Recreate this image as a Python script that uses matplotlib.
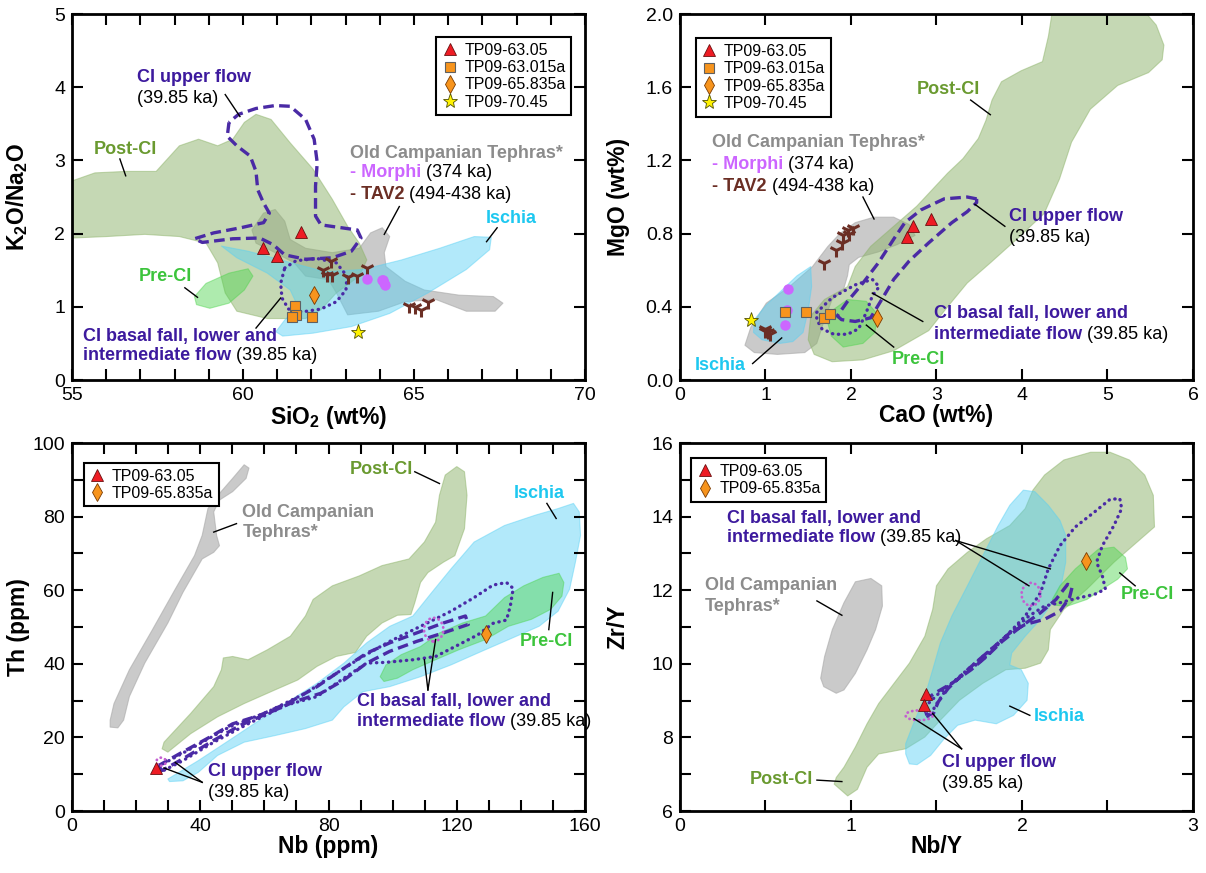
import numpy as np
import matplotlib.pyplot as plt
from matplotlib.patches import Polygon, Ellipse
from matplotlib.ticker import MultipleLocator
from matplotlib.lines import Line2D

plt.rcParams['font.family'] = 'Liberation Sans'
plt.rcParams['mathtext.fontset'] = 'custom'
plt.rcParams['mathtext.rm'] = 'Liberation Sans'
plt.rcParams['mathtext.bf'] = 'Liberation Sans:bold'

# ---------------- colours ----------------
POST_FILL, POST_TXT = '#8db36a', '#6a9a30'
PRE_FILL, PRE_TXT = '#4cd44c', '#3cc43c'
ISCH_FILL, ISCH_TXT = '#55d0f5', '#1ec8f0'
OCT_FILL, OCT_TXT = '#a8a8a8', '#8c8c8c'
CI = '#3d1a9e'
CI_LINE = '#4a2aa5'
MORPHI = '#cc66ff'
TAV2 = '#6b2e24'

# ---------------- SiO2 vs K2O/Na2O ----------------
p1_post_ci = [(55, 2.72), (55.67, 2.83), (56.57, 2.85), (57.46, 2.85), (58.14, 3.20), (58.70, 3.29),
              (59.26, 3.20), (59.70, 3.29), (60.04, 3.52), (60.38, 3.63), (60.82, 3.56), (61.38, 3.24),
              (62.05, 2.88), (62.61, 2.47), (63.06, 2.10), (63.40, 1.87), (63.62, 1.64), (63.40, 1.42),
              (62.73, 1.19), (62.28, 0.96), (61.83, 0.84), (60.71, 0.84), (59.82, 0.94), (59.48, 1.19),
              (59.26, 1.60), (58.92, 1.87), (58.14, 1.96), (57.13, 1.99), (56.01, 1.96), (55.0, 1.94)]
p1_oct = [(60.26, 2.05), (60.60, 2.28), (60.94, 2.33), (61.22, 2.17), (61.38, 1.92), (61.83, 1.80),
          (62.61, 1.74), (63.40, 1.80), (63.73, 2.01), (64.07, 2.08), (64.29, 1.96), (64.13, 1.74),
          (64.18, 1.55), (64.74, 1.35), (65.30, 1.23), (66.31, 1.16), (67.32, 1.14), (67.60, 1.05),
          (67.37, 0.94), (66.53, 0.94), (65.64, 1.10), (64.74, 1.07), (63.96, 0.94), (63.06, 0.89),
          (62.73, 1.19), (62.50, 1.37), (61.83, 1.42), (61.50, 1.60), (60.94, 1.74), (60.38, 1.87)]
p1_ischia = [(59.37, 1.83), (60.15, 1.76), (61.27, 1.62), (62.39, 1.48), (63.51, 1.51), (64.63, 1.64),
             (65.75, 1.80), (66.76, 1.96), (67.26, 1.95), (67.21, 1.78), (66.53, 1.51), (65.41, 1.19),
             (64.29, 0.91), (63.17, 0.73), (62.05, 0.64), (61.16, 0.60), (60.96, 0.66), (61.22, 0.82),
             (61.61, 1.00), (61.38, 1.23), (60.71, 1.46), (59.82, 1.67)]
p1_pre_ci = [(58.58, 1.14), (58.92, 1.32), (59.59, 1.46), (60.15, 1.52), (60.29, 1.42), (60.04, 1.23),
             (59.59, 1.05), (59.03, 0.98), (58.64, 1.03)]
p1_upper = [(59.59, 3.52), (59.54, 3.33), (59.82, 3.20), (60.21, 3.06), (60.38, 2.85), (60.43, 2.60),
            (60.60, 2.42), (60.77, 2.28), (60.60, 2.15), (59.93, 2.08), (59.14, 2.01), (58.58, 1.93),
            (58.81, 1.88), (59.70, 1.93), (60.49, 1.94), (60.88, 1.85), (61.22, 1.71), (61.83, 1.65),
            (62.61, 1.67), (63.17, 1.76), (63.45, 1.94), (63.34, 2.05), (62.73, 2.09), (62.28, 2.12),
            (62.12, 2.24), (62.12, 2.65), (62.17, 2.97), (62.08, 3.29), (61.83, 3.56), (61.38, 3.74),
            (60.94, 3.75), (60.38, 3.71), (59.87, 3.63)]
p1_basal = [(61.22, 1.53), (61.55, 1.63), (62.17, 1.66), (62.73, 1.60), (63.04, 1.42), (63.01, 1.23),
            (62.73, 1.07), (62.28, 0.97), (61.72, 0.93), (61.33, 0.97), (61.14, 1.12), (61.10, 1.32)]
p1_tri_x, p1_tri_y = [60.58, 60.99, 61.70], [1.80, 1.70, 2.02]
p1_sq_x, p1_sq_y = [61.52, 61.55, 61.44, 62.03], [1.01, 0.89, 0.86, 0.86]
p1_dia_x, p1_dia_y = [62.08], [1.16]
p1_star_x, p1_star_y = [63.37], [0.66]
p1_morphi_x, p1_morphi_y = [63.62, 64.05, 64.10, 64.12, 64.16], [1.38, 1.36, 1.37, 1.32, 1.30]
p1_tav2_x = [62.33, 62.45, 62.61, 62.56, 63.08, 63.34, 63.62, 64.85, 65.02, 65.19, 65.41]
p1_tav2_y = [1.50, 1.44, 1.44, 1.62, 1.41, 1.42, 1.53, 1.01, 1.00, 0.95, 1.07]

# ---------------- CaO vs MgO ----------------
p2_post_ci = [(4.35, 2.00), (5.46, 2.00), (5.57, 1.94), (5.66, 1.83), (5.64, 1.75), (5.48, 1.68),
              (5.12, 1.61), (4.80, 1.48), (4.58, 1.30), (4.44, 1.10), (4.26, 0.91), (3.94, 0.77),
              (3.63, 0.64), (3.36, 0.53), (3.13, 0.40), (2.91, 0.27), (2.50, 0.16), (2.14, 0.11),
              (1.78, 0.10), (1.57, 0.14), (1.50, 0.22), (1.53, 0.35), (1.69, 0.44), (1.96, 0.51),
              (2.05, 0.62), (2.23, 0.73), (2.50, 0.84), (2.77, 0.95), (2.95, 1.04), (3.13, 1.13),
              (3.31, 1.21), (3.49, 1.32), (3.58, 1.42), (3.65, 1.53), (3.76, 1.63), (3.99, 1.69),
              (4.24, 1.74), (4.31, 1.88)]
p2_oct = [(0.76, 0.19), (0.83, 0.29), (1.01, 0.42), (1.28, 0.51), (1.55, 0.62), (1.73, 0.73),
          (1.87, 0.80), (2.05, 0.86), (2.27, 0.89), (2.50, 0.89), (2.68, 0.85), (2.75, 0.79),
          (2.54, 0.74), (2.32, 0.70), (2.09, 0.67), (1.98, 0.63), (1.96, 0.57), (1.91, 0.49),
          (1.78, 0.44), (1.69, 0.33), (1.60, 0.20), (1.46, 0.15), (1.14, 0.14), (0.87, 0.15)]
p2_ischia = [(1.53, 0.62), (1.54, 0.51), (1.50, 0.38), (1.44, 0.26), (1.32, 0.21), (1.17, 0.20),
             (0.96, 0.22), (0.86, 0.26), (0.87, 0.33), (1.01, 0.41), (1.19, 0.49), (1.37, 0.57)]
p2_pre_ci = [(1.78, 0.38), (1.96, 0.44), (2.18, 0.43), (2.31, 0.36), (2.28, 0.26), (2.14, 0.20),
             (1.91, 0.18), (1.77, 0.24), (1.73, 0.31)]
p2_upper = [(3.47, 0.99), (3.36, 1.00), (3.09, 0.99), (2.82, 0.93), (2.63, 0.86), (2.50, 0.77),
            (2.32, 0.64), (2.14, 0.53), (1.96, 0.43), (1.84, 0.35), (1.89, 0.33), (2.05, 0.32),
            (2.23, 0.34), (2.36, 0.44), (2.50, 0.55), (2.68, 0.65), (2.91, 0.75), (3.18, 0.86),
            (3.36, 0.92), (3.47, 0.97)]
p2_basal = [(1.60, 0.37), (1.78, 0.45), (2.05, 0.52), (2.25, 0.55), (2.33, 0.51), (2.25, 0.46),
            (2.18, 0.37), (2.09, 0.28), (1.96, 0.25), (1.80, 0.25), (1.66, 0.28), (1.60, 0.33)]
p2_tri_x, p2_tri_y = [2.66, 2.72, 2.94], [0.78, 0.84, 0.88]
p2_sq_x, p2_sq_y = [1.23, 1.48, 1.68, 1.76], [0.37, 0.37, 0.34, 0.36]
p2_dia_x, p2_dia_y = [2.30], [0.34]
p2_star_x, p2_star_y = [0.83], [0.33]
p2_morphi_x, p2_morphi_y = [1.26, 1.25, 1.23], [0.50, 0.38, 0.30]
p2_tav2_x = [1.69, 1.83, 1.89, 1.91, 1.96, 2.02, 1.98, 1.00, 1.03, 0.99, 1.05]
p2_tav2_y = [0.64, 0.71, 0.75, 0.79, 0.82, 0.83, 0.80, 0.28, 0.26, 0.27, 0.25]

# ---------------- Nb vs Th ----------------
p3_oct = [(11.9, 24.7), (13.1, 29.2), (17.9, 38.4), (25.1, 49.3), (32.2, 60.3), (38.2, 69.4),
          (40.6, 74.9), (42.4, 82.2), (46.0, 86.3), (50.1, 90.4), (53.7, 94.1), (55.2, 93.2),
          (54.3, 90.4), (50.1, 86.8), (46.0, 84.5), (44.2, 81.3), (45.1, 74.9), (46.0, 72.1),
          (44.2, 70.3), (40.6, 68.5), (34.6, 59.4), (29.9, 51.1), (22.7, 40.2), (17.9, 31.1),
          (16.1, 24.7), (14.3, 22.6), (11.9, 22.8)]
p3_post_ci = [(28.7, 18.7), (37.0, 26.5), (44.2, 33.8), (46.6, 38.4), (47.2, 41.6), (50.1, 42.0),
              (54.9, 41.1), (60.9, 43.8), (68.1, 47.5), (72.8, 53.0), (75.2, 57.5), (81.2, 61.2),
              (89.6, 63.9), (96.7, 66.7), (105.1, 68.5), (109.9, 73.1), (113.4, 78.5), (114.6, 85.8),
              (116.4, 91.3), (120.0, 93.6), (122.4, 92.2), (123.2, 85.8), (122.4, 76.7), (119.4, 69.4),
              (115.8, 67.6), (111.0, 64.8), (108.7, 62.1), (106.9, 56.6), (105.7, 53.4), (101.5, 53.2),
              (96.7, 51.1), (91.9, 47.5), (88.4, 43.1), (82.4, 42.0), (76.4, 39.3), (70.4, 35.6),
              (63.3, 32.9), (53.7, 29.2), (45.4, 25.6), (37.0, 21.0), (29.9, 16.0), (28.1, 16.9)]
p3_ischia = [(29.9, 8.7), (39.4, 13.7), (49.0, 19.2), (58.5, 24.7), (68.1, 30.1), (76.4, 34.7),
             (84.8, 40.2), (91.9, 45.7), (99.1, 50.2), (106.3, 53.0), (112.2, 59.4), (118.2, 65.8),
             (125.4, 73.1), (134.9, 77.6), (144.5, 80.4), (151.6, 82.2), (156.4, 83.6), (158.2, 81.3),
             (158.6, 74.9), (157.0, 67.6), (155.2, 60.3), (151.6, 54.3), (145.7, 50.2), (137.3, 47.0),
             (127.8, 43.4), (118.2, 39.7), (108.7, 36.5), (99.1, 33.8), (90.7, 32.4), (84.8, 28.3),
             (81.2, 24.7), (72.8, 22.4), (63.3, 20.5), (53.7, 18.7), (45.4, 15.1), (39.4, 10.5),
             (34.6, 8.2), (30.4, 8.0)]
p3_pre_ci = [(96.1, 36.5), (97.9, 39.7), (102.7, 42.5), (108.7, 44.7), (114.6, 48.4), (121.8, 51.1),
             (129.0, 53.0), (134.9, 58.0), (140.9, 61.2), (146.9, 63.5), (151.9, 64.6), (153.4, 62.1),
             (152.8, 58.4), (149.3, 54.8), (143.3, 52.1), (136.1, 50.2), (129.0, 46.6), (120.6, 43.8),
             (113.4, 41.1), (106.3, 38.4), (101.5, 36.1), (97.3, 35.2)]
p3_upper = [(26.9, 12.3), (33.4, 15.5), (43.0, 20.1), (50.1, 23.7), (58.5, 26.0), (68.1, 29.7),
            (76.4, 33.8), (84.8, 38.8), (91.9, 42.9), (99.1, 45.7), (107.5, 48.4), (115.8, 51.1),
            (122.7, 53.0), (123.6, 50.7), (115.8, 48.4), (107.5, 46.1), (99.1, 43.4), (91.9, 40.2),
            (84.8, 35.6), (77.6, 32.0), (69.3, 29.7), (60.9, 26.5), (52.5, 23.3), (44.2, 19.2),
            (34.6, 14.2), (28.1, 11.0)]
p3_basal = [(26.9, 12.1), (37.0, 16.9), (49.0, 22.8), (60.9, 26.9), (72.8, 32.0), (82.4, 37.4),
            (90.7, 42.0), (99.1, 46.1), (108.7, 50.2), (118.2, 54.3), (125.4, 58.0), (131.3, 61.4),
            (135.5, 62.1), (137.6, 60.5), (136.7, 55.7), (135.5, 51.9), (131.3, 51.0), (126.6, 47.9),
            (120.6, 45.2), (113.4, 42.0), (106.3, 41.1), (97.9, 40.4), (91.9, 40.2), (84.8, 36.1),
            (76.4, 31.1), (66.9, 28.8), (54.9, 23.7), (44.2, 18.7), (34.6, 13.7), (28.1, 10.8)]
p3_pink = [((112.8, 49.3), 6.0, 6.4), ((27.8, 13.4), 3.0, 2.2)]
p3_tri_x, p3_tri_y = [26.3], [11.7]
p3_dia_x, p3_dia_y = [129.0], [48.2]

# ---------------- Nb/Y vs Zr/Y ----------------
p4_oct = [(0.823, 9.61), (0.846, 10.20), (0.891, 10.93), (0.959, 11.66), (1.026, 12.23), (1.117, 12.32),
          (1.180, 12.12), (1.184, 11.57), (1.144, 10.93), (1.094, 10.38), (1.026, 9.74), (0.959, 9.29),
          (0.914, 9.20), (0.841, 9.38)]
p4_post_ci = [(0.902, 6.73), (0.981, 6.41), (1.038, 6.59), (1.094, 7.19), (1.162, 7.55), (1.320, 7.69),
              (1.432, 8.01), (1.523, 8.47), (1.635, 9.01), (1.771, 9.47), (1.906, 9.84), (2.019, 9.88),
              (2.109, 10.02), (2.154, 10.38), (2.166, 10.93), (2.245, 11.48), (2.380, 12.03), (2.538, 12.76),
              (2.696, 13.40), (2.775, 13.72), (2.768, 14.58), (2.718, 15.13), (2.628, 15.54), (2.515, 15.75),
              (2.402, 15.75), (2.245, 15.54), (2.132, 15.13), (2.064, 14.72), (2.019, 14.22), (1.929, 13.76),
              (1.793, 13.40), (1.681, 13.03), (1.568, 12.58), (1.500, 12.12), (1.478, 11.48), (1.432, 10.75),
              (1.342, 10.02), (1.252, 9.47), (1.162, 8.92), (1.094, 8.37), (1.026, 7.74), (0.959, 7.19),
              (0.914, 6.91)]
p4_ischia = [(2.008, 14.72), (2.075, 14.68), (2.154, 14.31), (2.222, 13.90), (2.256, 13.49), (2.256, 12.76),
             (2.233, 12.21), (2.177, 11.66), (2.109, 11.21), (2.019, 10.75), (1.940, 10.29), (1.929, 9.97),
             (1.996, 9.84), (2.037, 9.47), (2.030, 9.01), (1.951, 8.60), (1.850, 8.37), (1.726, 8.47),
             (1.624, 8.33), (1.545, 7.96), (1.466, 7.51), (1.387, 7.26), (1.342, 7.28), (1.320, 7.55),
             (1.320, 7.83), (1.365, 8.37), (1.432, 9.11), (1.478, 9.84), (1.523, 10.57), (1.590, 11.30),
             (1.681, 12.12), (1.771, 12.94), (1.861, 13.76), (1.929, 14.31)]
p4_pre_ci = [(2.177, 11.75), (2.222, 12.12), (2.312, 12.58), (2.448, 13.12), (2.538, 13.17), (2.605, 12.89),
             (2.617, 12.58), (2.560, 12.30), (2.470, 12.03), (2.380, 11.75), (2.267, 11.57), (2.195, 11.59)]
p4_upper = [(1.444, 8.60), (1.421, 8.97), (1.489, 9.20), (1.590, 9.47), (1.703, 9.84), (1.793, 10.20),
            (1.884, 10.61), (1.996, 11.02), (2.109, 11.39), (2.199, 11.75), (2.267, 12.16), (2.294, 12.10),
            (2.278, 11.80), (2.222, 11.43), (2.132, 11.21), (2.019, 11.07), (1.929, 10.84), (1.838, 10.47),
            (1.748, 10.11), (1.658, 9.74), (1.568, 9.33), (1.511, 8.97), (1.482, 8.65)]
p4_basal = [(1.432, 8.83), (1.523, 9.24), (1.658, 9.70), (1.793, 10.20), (1.906, 10.75), (2.019, 11.30),
            (2.109, 11.94), (2.154, 12.58), (2.222, 13.21), (2.312, 13.72), (2.425, 14.13), (2.515, 14.47),
            (2.572, 14.49), (2.583, 14.22), (2.538, 13.76), (2.470, 13.21), (2.436, 12.76), (2.470, 12.39),
            (2.488, 12.03), (2.425, 11.89), (2.312, 11.77), (2.222, 11.66), (2.132, 11.57), (2.041, 11.30),
            (1.929, 10.84), (1.793, 10.29), (1.681, 9.84), (1.568, 9.38), (1.489, 8.83), (1.466, 8.56),
            (1.444, 8.58)]
p4_pink = [((2.053, 11.89), 0.11, 0.62), ((1.399, 8.60), 0.16, 0.27)]
p4_tri_x, p4_tri_y = [1.439, 1.428], [9.17, 8.88]
p4_dia_x, p4_dia_y = [2.375], [12.80]


def field(ax, pts, color, alpha):
    ax.add_patch(Polygon(pts, closed=True, facecolor=color, edgecolor=color, lw=0.8,
                         alpha=alpha, joinstyle='round', zorder=1))


def outline(ax, pts, dotted=False):
    xy = np.array(pts + pts[:1])
    if dotted:
        ax.plot(xy[:, 0], xy[:, 1], color=CI_LINE, lw=2.4, ls=(0, (0.1, 1.7)),
                dash_capstyle='round', zorder=3)
    else:
        ax.plot(xy[:, 0], xy[:, 1], color=CI_LINE, lw=2.4, ls=(0, (3.2, 1.6)), zorder=3)


def pink_loops(ax, loops):
    for (cx, cy), w, h in loops:
        ax.add_patch(Ellipse((cx, cy), w, h, fill=False, ec='#c35fd0', lw=2.0,
                             ls=(0, (0.1, 1.6)), capstyle='round', zorder=3))


def text(ax, x, y, parts, size=13):
    # parts: (string, colour, bold) pieces written one after another on a line
    prev = None
    for s, c, b in parts:
        w = 'bold' if b else 'normal'
        if prev is None:
            prev = ax.text(x, y, s, color=c, fontweight=w, fontsize=size,
                           ha='left', va='center', zorder=5)
        else:
            prev = ax.annotate(s, xy=(1, 0.5), xycoords=prev, color=c, fontweight=w,
                               fontsize=size, ha='left', va='center', zorder=5)
    return prev


def leader(ax, x0, y0, x1, y1):
    ax.plot([x0, x1], [y0, y1], color='k', lw=1.0, zorder=4)


def style_axes(ax, xlim, ylim, xmaj, xmin, ymaj, ymin):
    ax.set_xlim(*xlim)
    ax.set_ylim(*ylim)
    ax.xaxis.set_major_locator(MultipleLocator(xmaj))
    ax.xaxis.set_minor_locator(MultipleLocator(xmin))
    ax.yaxis.set_major_locator(MultipleLocator(ymaj))
    ax.yaxis.set_minor_locator(MultipleLocator(ymin))
    ax.tick_params(which='both', direction='in', top=True, right=True, length=8, width=1.5,
                   labelsize=14, pad=5)
    for sp in ax.spines.values():
        sp.set_linewidth(2.0)


def axis_labels(ax, xl, yl, ypos):
    ax.set_xlabel(xl, fontsize=16.5, fontweight='bold', labelpad=0)
    ax.set_ylabel(yl, fontsize=16.5, fontweight='bold')
    ax.yaxis.set_label_coords(ypos, 0.5)


TRI = dict(marker='^', ls='none', mfc='#ee1c24', mec='#6a1010', mew=0.6, ms=9)
SQ = dict(marker='s', ls='none', mfc='#f7941d', mec='#606060', mew=0.8, ms=7.5)
DIA = dict(marker='d', ls='none', mfc='#f7941d', mec='#7a3a00', mew=0.6, ms=9)
STAR = dict(marker='*', ls='none', mfc='#fff200', mec='#505000', mew=0.6, ms=11)


def legend(ax, names, styles, anchor, loc):
    handles = [Line2D([], [], **st) for st in styles]
    lg = ax.legend(handles, names, loc=loc, bbox_to_anchor=anchor, borderaxespad=0,
                   fontsize=11.5, handlelength=1.0, handletextpad=0.4, labelspacing=0.15,
                   borderpad=0.35, fancybox=False, framealpha=1, edgecolor='k')
    lg.get_frame().set_linewidth(1.5)
    lg.set_zorder(6)


fig = plt.figure(figsize=(12.06, 8.73), dpi=100)
ax1 = fig.add_axes([0.0597, 0.5647, 0.4254, 0.4192])
ax2 = fig.add_axes([0.5638, 0.5647, 0.4254, 0.4192])
ax3 = fig.add_axes([0.0597, 0.0710, 0.4254, 0.4215])
ax4 = fig.add_axes([0.5638, 0.0710, 0.4254, 0.4215])

# ---- panel 1 ----
ax = ax1
field(ax, p1_oct, OCT_FILL, 0.6)
field(ax, p1_post_ci, POST_FILL, 0.5)
field(ax, p1_ischia, ISCH_FILL, 0.45)
field(ax, p1_pre_ci, PRE_FILL, 0.45)
outline(ax, p1_upper)
outline(ax, p1_basal, dotted=True)
ax.plot(p1_tav2_x, p1_tav2_y, ls='none', marker='1', ms=10, mew=2.2, color=TAV2, zorder=4)
ax.plot(p1_morphi_x, p1_morphi_y, ls='none', marker='o', ms=6.5, color=MORPHI, zorder=4)
ax.plot(p1_tri_x, p1_tri_y, zorder=4, **TRI)
ax.plot(p1_sq_x, p1_sq_y, zorder=4, **SQ)
ax.plot(p1_dia_x, p1_dia_y, zorder=4, **DIA)
ax.plot(p1_star_x, p1_star_y, zorder=4, **STAR)
text(ax, 56.90, 4.13, [('CI upper flow', CI, True)])
text(ax, 56.90, 3.85, [('(39.85 ka)', 'k', False)])
leader(ax, 59.48, 3.90, 59.91, 3.60)
text(ax, 55.65, 3.15, [('Post-CI', POST_TXT, True)])
leader(ax, 56.40, 3.02, 56.57, 2.79)
text(ax, 63.12, 3.10, [('Old Campanian Tephras*', OCT_TXT, True)])
text(ax, 63.12, 2.83, [('- Morphi', MORPHI, True), (' (374 ka)', 'k', False)])
text(ax, 63.12, 2.54, [('- TAV2', TAV2, True), (' (494-438 ka)', 'k', False)])
leader(ax, 64.57, 2.37, 64.13, 1.99)
text(ax, 67.09, 2.21, [('Ischia', ISCH_TXT, True)])
leader(ax, 67.43, 2.08, 67.12, 1.89)
text(ax, 56.96, 1.41, [('Pre-CI', PRE_TXT, True)])
leader(ax, 58.30, 1.26, 58.67, 1.13)
text(ax, 55.31, 0.60, [('CI basal fall, lower and', CI, True)])
text(ax, 55.31, 0.34, [('intermediate flow', CI, True), (' (39.85 ka)', 'k', False)])
leader(ax, 60.38, 0.71, 61.10, 1.12)
style_axes(ax, (55, 70), (0, 5), 5, 1, 1, 1)
axis_labels(ax, 'SiO$_\\mathbf{2}$ (wt%)', 'K$_\\mathbf{2}$O/Na$_\\mathbf{2}$O', -0.082)
legend(ax, ['TP09-63.05', 'TP09-63.015a', 'TP09-65.835a', 'TP09-70.45'],
       [TRI, SQ, DIA, STAR], (0.973, 0.937), 'upper right')

# ---- panel 2 ----
ax = ax2
field(ax, p2_oct, OCT_FILL, 0.6)
field(ax, p2_post_ci, POST_FILL, 0.5)
field(ax, p2_ischia, ISCH_FILL, 0.45)
field(ax, p2_pre_ci, PRE_FILL, 0.45)
outline(ax, p2_upper)
outline(ax, p2_basal, dotted=True)
ax.plot(p2_tav2_x, p2_tav2_y, ls='none', marker='1', ms=10, mew=2.2, color=TAV2, zorder=4)
ax.plot(p2_morphi_x, p2_morphi_y, ls='none', marker='o', ms=6.5, color=MORPHI, zorder=4)
ax.plot(p2_tri_x, p2_tri_y, zorder=4, **TRI)
ax.plot(p2_sq_x, p2_sq_y, zorder=4, **SQ)
ax.plot(p2_dia_x, p2_dia_y, zorder=4, **DIA)
ax.plot(p2_star_x, p2_star_y, zorder=4, **STAR)
text(ax, 0.375, 1.30, [('Old Campanian Tephras*', OCT_TXT, True)])
text(ax, 0.375, 1.18, [('- Morphi', MORPHI, True), (' (374 ka)', 'k', False)])
text(ax, 0.375, 1.06, [('- TAV2', TAV2, True), (' (494-438 ka)', 'k', False)])
leader(ax, 2.14, 1.00, 2.27, 0.88)
text(ax, 2.77, 1.59, [('Post-CI', POST_TXT, True)])
leader(ax, 3.40, 1.53, 3.63, 1.45)
text(ax, 3.85, 0.895, [('CI upper flow', CI, True)])
text(ax, 3.85, 0.78, [('(39.85 ka)', 'k', False)])
leader(ax, 3.80, 0.84, 3.45, 0.96)
text(ax, 2.97, 0.365, [('CI basal fall, lower and', CI, True)])
text(ax, 2.97, 0.25, [('intermediate flow', CI, True), (' (39.85 ka)', 'k', False)])
leader(ax, 2.84, 0.32, 2.25, 0.475)
text(ax, 2.48, 0.113, [('Pre-CI', PRE_TXT, True)])
leader(ax, 2.50, 0.18, 2.18, 0.30)
text(ax, 0.17, 0.08, [('Ischia', ISCH_TXT, True)])
leader(ax, 0.85, 0.09, 1.19, 0.23)
style_axes(ax, (0, 6), (0, 2), 1, 1, 0.4, 0.4)
ax.yaxis.set_major_formatter(plt.FormatStrFormatter('%.1f'))
axis_labels(ax, 'CaO (wt%)', 'MgO (wt%)', -0.098)
legend(ax, ['TP09-63.05', 'TP09-63.015a', 'TP09-65.835a', 'TP09-70.45'],
       [TRI, SQ, DIA, STAR], (0.031, 0.934), 'upper left')

# ---- panel 3 ----
ax = ax3
field(ax, p3_oct, OCT_FILL, 0.6)
field(ax, p3_post_ci, POST_FILL, 0.5)
field(ax, p3_ischia, ISCH_FILL, 0.45)
field(ax, p3_pre_ci, PRE_FILL, 0.45)
outline(ax, p3_upper)
outline(ax, p3_basal, dotted=True)
pink_loops(ax, p3_pink)
ax.plot(p3_tri_x, p3_tri_y, zorder=4, **TRI)
ax.plot(p3_dia_x, p3_dia_y, zorder=4, **DIA)
text(ax, 86.6, 92.7, [('Post-CI', POST_TXT, True)])
leader(ax, 106.9, 92.2, 114.6, 89.0)
text(ax, 137.9, 86.3, [('Ischia', ISCH_TXT, True)])
leader(ax, 148.1, 83.6, 151.0, 79.5)
text(ax, 53.1, 81.1, [('Old Campanian', OCT_TXT, True)])
text(ax, 53.1, 75.6, [('Tephras*', OCT_TXT, True)])
leader(ax, 51.3, 78.1, 44.2, 75.8)
text(ax, 139.7, 46.1, [('Pre-CI', PRE_TXT, True)])
leader(ax, 148.7, 49.3, 149.9, 59.4)
text(ax, 89.0, 29.7, [('CI basal fall, lower and', CI, True)])
text(ax, 89.0, 24.2, [('intermediate flow', CI, True), (' (39.85 ka)', 'k', False)])
leader(ax, 111.0, 32.9, 109.9, 41.1)
leader(ax, 111.0, 32.9, 113.4, 46.6)
text(ax, 42.4, 10.8, [('CI upper flow', CI, True)])
text(ax, 42.4, 5.0, [('(39.85 ka)', 'k', False)])
leader(ax, 40.6, 7.8, 28.7, 11.7)
leader(ax, 40.6, 7.8, 32.2, 13.2)
style_axes(ax, (0, 160), (0, 100), 40, 10, 20, 10)
axis_labels(ax, 'Nb (ppm)', 'Th (ppm)', -0.082)
legend(ax, ['TP09-63.05', 'TP09-65.835a'], [TRI, DIA], (0.023, 0.946), 'upper left')

# ---- panel 4 ----
ax = ax4
field(ax, p4_oct, OCT_FILL, 0.6)
field(ax, p4_post_ci, POST_FILL, 0.5)
field(ax, p4_ischia, ISCH_FILL, 0.45)
field(ax, p4_pre_ci, PRE_FILL, 0.45)
outline(ax, p4_upper)
outline(ax, p4_basal, dotted=True)
pink_loops(ax, p4_pink)
ax.plot(p4_tri_x, p4_tri_y, zorder=4, **TRI)
ax.plot(p4_dia_x, p4_dia_y, zorder=4, **DIA)
text(ax, 0.277, 13.95, [('CI basal fall, lower and', CI, True)])
text(ax, 0.277, 13.42, [('intermediate flow', CI, True), (' (39.85 ka)', 'k', False)])
leader(ax, 1.613, 13.35, 2.166, 12.58)
leader(ax, 1.613, 13.35, 2.041, 12.12)
text(ax, 0.147, 12.12, [('Old Campanian', OCT_TXT, True)])
text(ax, 0.147, 11.57, [('Tephras*', OCT_TXT, True)])
leader(ax, 0.801, 11.71, 0.947, 11.32)
text(ax, 2.578, 11.89, [('Pre-CI', PRE_TXT, True)])
leader(ax, 2.662, 12.12, 2.572, 12.47)
text(ax, 2.069, 8.56, [('Ischia', ISCH_TXT, True)])
leader(ax, 2.046, 8.60, 1.929, 8.85)
text(ax, 1.534, 7.32, [('CI upper flow', CI, True)])
text(ax, 1.534, 6.76, [('(39.85 ka)', 'k', False)])
leader(ax, 1.647, 7.69, 1.369, 8.51)
leader(ax, 1.647, 7.69, 1.478, 8.65)
text(ax, 0.406, 6.87, [('Post-CI', POST_TXT, True)])
leader(ax, 0.801, 6.84, 0.947, 6.80)
style_axes(ax, (0, 3), (6, 16), 1, 0.5, 2, 1)
axis_labels(ax, 'Nb/Y', 'Zr/Y', -0.098)
legend(ax, ['TP09-63.05', 'TP09-65.835a'], [TRI, DIA], (0.022, 0.959), 'upper left')

fig.savefig('out.png', dpi=100, facecolor='white')
